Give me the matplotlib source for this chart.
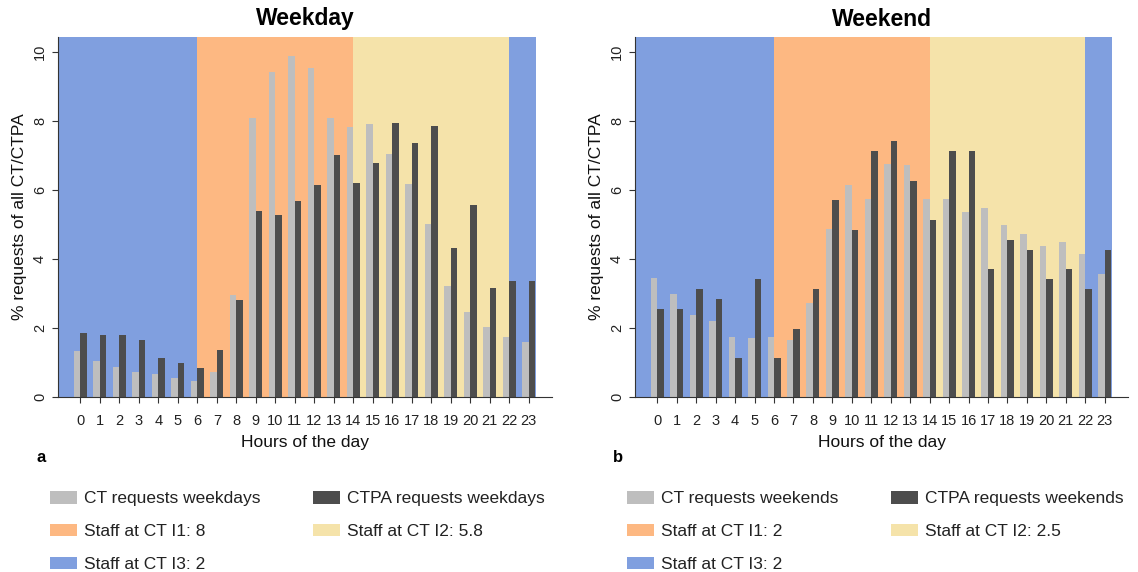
import matplotlib
matplotlib.use("Agg")
import matplotlib.pyplot as plt
from matplotlib.patches import Patch
import numpy as np

plt.rcParams['font.family'] = ['Liberation Sans', 'DejaVu Sans']

hours = list(range(24))

ct_weekday = [1.32, 1.03, 0.87, 0.73, 0.67, 0.54, 0.47, 0.72, 2.95, 8.07, 9.42, 9.88,
              9.54, 8.08, 7.82, 7.90, 7.05, 6.18, 5.02, 3.21, 2.45, 2.02, 1.73, 1.59]
ctpa_weekday = [1.86, 1.79, 1.79, 1.64, 1.13, 0.99, 0.84, 1.35, 2.80, 5.40, 5.26, 5.69,
                6.13, 7.00, 6.19, 6.77, 7.93, 7.35, 7.86, 4.32, 5.55, 3.16, 3.37, 3.37]
ct_weekend = [3.45, 2.97, 2.39, 2.19, 1.75, 1.72, 1.75, 1.65, 2.71, 4.87, 6.15, 5.75,
              6.76, 6.71, 5.73, 5.75, 5.35, 5.47, 4.98, 4.73, 4.37, 4.48, 4.15, 3.55]
ctpa_weekend = [2.55, 2.55, 3.12, 2.84, 1.12, 3.41, 1.12, 1.98, 3.13, 5.70, 4.84, 7.13,
                7.42, 6.27, 5.13, 7.13, 7.13, 3.70, 4.56, 4.27, 3.42, 3.70, 3.13, 4.27]

# shift boundaries (hours): I3 night, I1 morning, I2 afternoon, I3 night
shift_starts = [None, 6, 14, 22]
shift_ends = [6, 14, 22, None]
shift_names = ['I3', 'I1', 'I2', 'I3']

staff_weekday = {'I1': '8', 'I2': '5.8', 'I3': '2'}
staff_weekend = {'I1': '2', 'I2': '2.5', 'I3': '2'}

shift_colors = {'I1': '#FDB882', 'I2': '#F5E3AA', 'I3': '#809FDF'}
ct_color = '#BEBEBE'
ctpa_color = '#4D4D4D'
axis_color = '#333333'

W, H = 1138, 572
fig = plt.figure(figsize=(W / 100, H / 100), dpi=100)

XMIN, XMAX = -1.15, 24.2
BG_RIGHT = 23.4
YMAX = 10.43
bw = 1 / 3


def panel(left_px, right_px, ct, ctpa, title, letter, suffix, staff):
    ax = fig.add_axes([left_px / W, 1 - 397 / H, (right_px - left_px) / W, (397 - 37) / H])
    x = np.array(hours)
    for s, e, name in zip(shift_starts, shift_ends, shift_names):
        s = XMIN if s is None else s
        e = BG_RIGHT if e is None else e
        ax.axvspan(s, e, color=shift_colors[name], lw=0, zorder=0)
    ax.bar(x - bw / 2, ct, width=bw, color=ct_color, zorder=2)
    ax.bar(x + bw / 2, ctpa, width=bw, color=ctpa_color, zorder=2)
    ax.set_xlim(XMIN, XMAX)
    ax.set_ylim(0, YMAX)
    ax.set_xticks(hours)
    ax.set_xticklabels([str(h) for h in hours])
    ax.set_yticks([0, 2, 4, 6, 8, 10])
    for lab in ax.get_yticklabels():
        lab.set_rotation(90)
        lab.set_va('center')
    ax.tick_params(axis='both', colors=axis_color, labelsize=10.5, length=4, width=0.8,
                   labelcolor='#222222')
    ax.tick_params(axis='x', pad=8)
    ax.tick_params(axis='y', pad=4)
    for sp in ['top', 'right']:
        ax.spines[sp].set_visible(False)
    for sp in ['left', 'bottom']:
        ax.spines[sp].set_color(axis_color)
        ax.spines[sp].set_linewidth(0.8)
    ax.set_xlabel('Hours of the day', fontsize=12.5, labelpad=5, color='#111111')
    ax.set_ylabel('% requests of all CT/CTPA', fontsize=12.5, labelpad=4.5, color='#111111')
    fig.text((left_px + right_px) / 2 / W, 1 - 19 / H, title, fontsize=16.5, fontweight='bold',
             ha='center', va='center')
    fig.text((left_px - 17) / W, 1 - 457 / H, letter, fontsize=12, fontweight='bold',
             ha='center', va='center')
    handles = [
        Patch(facecolor=ct_color, label=f'CT requests {suffix}'),
        Patch(facecolor=shift_colors['I1'], label=f"Staff at CT I1: {staff['I1']}"),
        Patch(facecolor=shift_colors['I3'], label=f"Staff at CT I3: {staff['I3']}"),
        Patch(facecolor=ctpa_color, label=f'CTPA requests {suffix}'),
        Patch(facecolor=shift_colors['I2'], label=f"Staff at CT I2: {staff['I2']}"),
    ]
    fig.legend(handles=handles, ncol=2, loc='upper left',
               bbox_to_anchor=((left_px - 8) / W, 1 - 491 / H), frameon=False,
               fontsize=12.5, borderpad=0, borderaxespad=0, handlelength=1.55,
               handleheight=0.75, handletextpad=0.42, labelspacing=1.0,
               columnspacing=3.0, labelcolor='#222222')
    return ax


panel(58, 552, ct_weekday, ctpa_weekday, 'Weekday', 'a', 'weekdays', staff_weekday)
panel(635, 1128, ct_weekend, ctpa_weekend, 'Weekend', 'b', 'weekends', staff_weekend)

fig.savefig('out.png', dpi=100)
